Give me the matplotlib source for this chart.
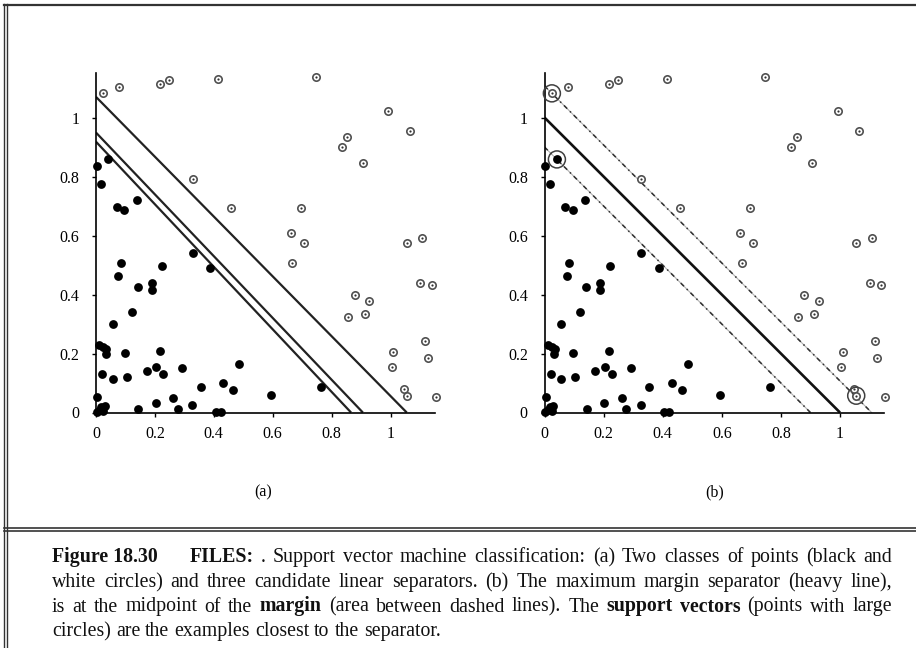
import matplotlib
matplotlib.use('Agg')
import matplotlib.pyplot as plt
from matplotlib.lines import Line2D

plt.rcParams['font.family'] = ['Liberation Serif', 'DejaVu Serif']

# class 1 (black points)
black_x = [0.002, 0.042, 0.017, 0.070, 0.095, 0.138,
           0.328, 0.387, 0.084, 0.076, 0.223, 0.141, 0.189, 0.189, 0.121, 0.057,
           0.011, 0.025, 0.034, 0.033, 0.098, 0.217,
           0.021, 0.057, 0.104, 0.172, 0.204, 0.229, 0.293,
           0.355, 0.432, 0.466, 0.486,
           0.004, 0.203, 0.263, 0.277, 0.144, 0.325, 0.406, 0.423,
           0.002, 0.012, 0.025, 0.030, 0.018,
           0.593, 0.764]
black_y = [0.836, 0.858, 0.775, 0.698, 0.686, 0.720,
           0.542, 0.489, 0.508, 0.464, 0.497, 0.424, 0.440, 0.415, 0.340, 0.300,
           0.229, 0.221, 0.214, 0.200, 0.203, 0.210,
           0.130, 0.114, 0.119, 0.142, 0.155, 0.130, 0.152,
           0.085, 0.099, 0.076, 0.163,
           0.054, 0.033, 0.048, 0.011, 0.011, 0.025, 0.003, 0.003,
           0.003, 0.008, 0.004, 0.022, 0.020,
           0.060, 0.085]

# class 2 (white points)
white_x = [0.025, 0.078, 0.217, 0.248, 0.413, 0.328, 0.458,
           0.747, 0.993, 1.066, 0.853, 0.834, 0.906,
           0.695, 0.661, 0.707, 0.667,
           1.055, 1.108, 1.100, 1.140,
           0.879, 0.928, 0.913, 0.857,
           1.117, 1.126, 1.010, 1.004, 1.046, 1.055, 1.153]
white_y = [1.082, 1.104, 1.113, 1.127, 1.129, 0.790, 0.694,
           1.136, 1.023, 0.955, 0.935, 0.899, 0.847,
           0.694, 0.607, 0.573, 0.508,
           0.576, 0.590, 0.440, 0.432,
           0.398, 0.379, 0.334, 0.323,
           0.243, 0.186, 0.206, 0.153, 0.080, 0.057, 0.054]

# (a) candidate separators: y-intercept, x-intercept
sep_y0 = [1.070, 0.949, 0.918]
sep_x0 = [1.055, 0.906, 0.866]

# (b) max margin separator x + y = c, margins
best_c = 1.0
margin_c = [0.900, 1.107]
sv_x = [0.025, 0.042, 1.055]
sv_y = [1.082, 0.858, 0.057]

ticks = [0, 0.2, 0.4, 0.6, 0.8, 1]
tick_labels = ['0', '0.2', '0.4', '0.6', '0.8', '1']

W, H = 916, 648
fig = plt.figure(figsize=(W / 100, H / 100), dpi=100)


def px_box(x0, y_top, x1, y_bot):
    return [x0 / W, 1 - y_bot / H, (x1 - x0) / W, (y_bot - y_top) / H]


def draw_points(ax):
    ax.scatter(black_x, black_y, s=40, color='black', zorder=3, clip_on=False, lw=0)
    ax.scatter(white_x, white_y, s=28, facecolor='white', edgecolor='#505050',
               linewidth=1.2, zorder=3, clip_on=False)
    ax.scatter(white_x, white_y, s=2.5, color='#303030', zorder=4, clip_on=False, lw=0)


def style(ax):
    ax.set_xlim(0, 1.15)
    ax.set_ylim(0, 1.15)
    for s in ['top', 'right']:
        ax.spines[s].set_visible(False)
    for s in ['left', 'bottom']:
        ax.spines[s].set_linewidth(1.2)
    ax.set_xticks(ticks)
    ax.set_xticklabels(tick_labels)
    ax.set_yticks(ticks)
    ax.set_yticklabels(tick_labels)
    ax.tick_params(axis='both', direction='out', length=3, width=1, labelsize=11.5)
    ax.tick_params(axis='y', pad=9)
    ax.tick_params(axis='x', pad=7)
    ax.patch.set_alpha(0)


# panel (a)
ax1 = fig.add_axes(px_box(96, 73.3, 434.7, 412.5))
style(ax1)
for y0, x0 in zip(sep_y0, sep_x0):
    ax1.plot([0, x0], [y0, 0], color='#222222', lw=1.6, zorder=2, solid_capstyle='butt')
draw_points(ax1)

# panel (b)
ax2 = fig.add_axes(px_box(544.5, 73.3, 884.3, 412.5))
style(ax2)
ax2.plot([0, best_c], [best_c, 0], color='#111111', lw=1.9, zorder=2, solid_capstyle='butt')
for c in margin_c:
    ax2.plot([0, c], [c, 0], color='#b0b0b0', lw=0.8, zorder=2)
    ax2.plot([0, c], [c, 0], color='#303030', lw=1.1, zorder=2,
             dashes=(3, 2.5, 1, 2.5))
draw_points(ax2)
ax2.scatter(sv_x, sv_y, s=150, facecolor='none', edgecolor='#404040',
            linewidth=1.1, zorder=5, clip_on=False)

fig.text(263 / W, 1 - 492 / H, '(a)', ha='center', va='center', fontsize=11.5)
fig.text(715 / W, 1 - 492 / H, '(b)', ha='center', va='center', fontsize=11.5)

# frame lines
def hline(y, x0=4, x1=W, lw=1.2):
    fig.add_artist(Line2D([x0 / W, x1 / W], [1 - y / H, 1 - y / H],
                          transform=fig.transFigure, color='#333333', lw=lw))


def vline(x, y0, y1, lw=1.0):
    fig.add_artist(Line2D([x / W, x / W], [1 - y0 / H, 1 - y1 / H],
                          transform=fig.transFigure, color='#333333', lw=lw))


hline(4.5, lw=1.6)
hline(528)
hline(531)
vline(4, 4, H)
vline(6.8, 4, H)

# caption (justified)
cap_size = 14.3
cap_x0, cap_x1 = 52, 892
gap_after_num = 32
cap_lines = [
    [('FILES:', True), ('. Support vector machine classification: (a) Two classes of points (black and', False)],
    [('white circles) and three candidate linear separators.  (b) The maximum margin separator (heavy line),', False)],
    [('is at the midpoint of the', False), ('margin', True),
     ('(area between dashed lines). The', False), ('support vectors', True),
     ('(points with large', False)],
    [('circles) are the examples closest to the separator.', False)],
]
cap_base = [562, 587, 611.5, 636]
justify = [True, True, True, False]

renderer = fig.canvas.get_renderer()
space_px = 0.25 * cap_size * 100 / 72


def put_words(segs, y, x_start, x_end, just):
    objs = []
    for txt, bold in segs:
        for w in txt.split():
            t = fig.text(0, 1 - y / H, w, fontsize=cap_size, va='baseline',
                         fontweight='bold' if bold else 'normal', color='#111111')
            objs.append(t)
    widths = [t.get_window_extent(renderer).width for t in objs]
    if just and len(objs) > 1:
        gap = (x_end - x_start - sum(widths)) / (len(objs) - 1)
    else:
        gap = space_px
    x = x_start
    for t, w in zip(objs, widths):
        t.set_x(x / W)
        x += w + gap


pre = fig.text(cap_x0 / W, 1 - cap_base[0] / H, 'Figure 18.30', fontsize=cap_size,
               fontweight='bold', va='baseline', color='#111111')
pre_w = pre.get_window_extent(renderer).width
for i, segs in enumerate(cap_lines):
    xs = cap_x0 + (pre_w + gap_after_num if i == 0 else 0)
    put_words(segs, cap_base[i], xs, cap_x1, justify[i])

fig.savefig('out.png', dpi=100)
